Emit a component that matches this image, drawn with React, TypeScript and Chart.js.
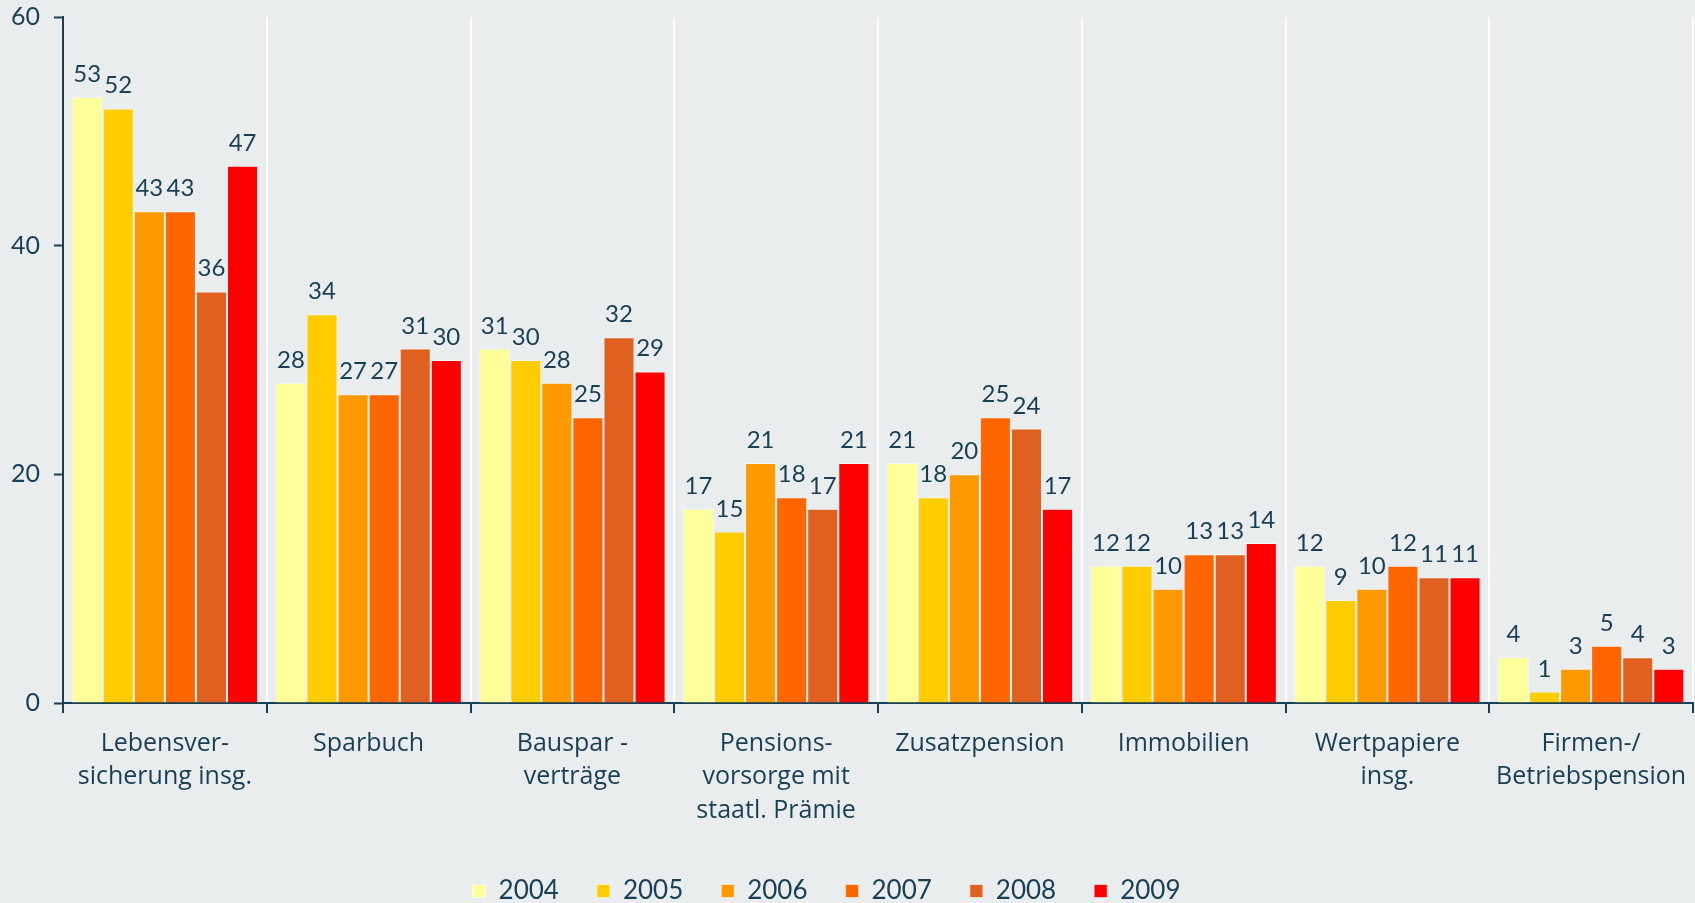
import React, { useEffect, useRef } from "react";
import { Chart, registerables } from "chart.js";

Chart.register(...registerables);

const categories: string[][] = [
  ["Lebensver-", "sicherung insg."],
  ["Sparbuch"],
  ["Bauspar -", "verträge"],
  ["Pensions-", "vorsorge mit", "staatl. Prämie"],
  ["Zusatzpension"],
  ["Immobilien"],
  ["Wertpapiere", "insg."],
  ["Firmen-/", "Betriebspension"],
];

const years = ["2004", "2005", "2006", "2007", "2008", "2009"];
const v2004 = [53, 28, 31, 17, 21, 12, 12, 4];
const v2005 = [52, 34, 30, 15, 18, 12, 9, 1];
const v2006 = [43, 27, 28, 21, 20, 10, 10, 3];
const v2007 = [43, 27, 25, 18, 25, 13, 12, 5];
const v2008 = [36, 31, 32, 17, 24, 13, 11, 4];
const v2009 = [47, 30, 29, 21, 17, 14, 11, 3];
const seriesValues = [v2004, v2005, v2006, v2007, v2008, v2009];
const yTicks = [0, 20, 40, 60];

const colors = ["#ffff99", "#ffcc00", "#ff9900", "#ff6600", "#e06020", "#ff0000"];
const TEXT = "#173f56";
const BG = "#e9edee";
const FONT = "'Open Sans', 'DejaVu Sans', sans-serif";
const NUMFONT = "Lato, 'Open Sans', sans-serif";

export default function App() {
  const ref = useRef<HTMLCanvasElement | null>(null);
  useEffect(() => {
    if (!ref.current) return;
    const bgPlugin = {
      id: "bg",
      beforeDraw(chart: any) {
        const ctx = chart.ctx;
        ctx.save();
        ctx.fillStyle = BG;
        ctx.fillRect(0, 0, chart.width, chart.height);
        ctx.restore();
      },
    };
    const valuePlugin = {
      id: "values",
      afterDatasetsDraw(chart: any) {
        const ctx = chart.ctx;
        ctx.save();
        ctx.fillStyle = TEXT;
        ctx.font = `24px ${NUMFONT}`;
        ctx.textAlign = "center";
        ctx.textBaseline = "alphabetic";
        chart.data.datasets.forEach((ds: any, i: number) => {
          const meta = chart.getDatasetMeta(i);
          meta.data.forEach((bar: any, j: number) => {
            ctx.fillText(String(ds.data[j]), bar.x, bar.y - 15);
          });
        });
        ctx.restore();
      },
    };
    const chart = new Chart(ref.current, {
      type: "bar",
      data: {
        labels: categories,
        datasets: years.map((y, i) => ({
          label: y,
          data: seriesValues[i],
          backgroundColor: colors[i],
          borderColor: "rgba(255,255,255,0.55)",
          borderWidth: 1,
          barPercentage: 1,
          categoryPercentage: 0.915,
        })),
      },
      options: {
        animation: false,
        responsive: false,
        maintainAspectRatio: false,
        layout: { padding: { left: 0, right: 2, top: 17, bottom: -11 } },
        plugins: {
          tooltip: { enabled: false },
          legend: {
            position: "bottom",
            labels: {
              boxWidth: 13,
              boxHeight: 13,
              padding: 38,
              color: TEXT,
              font: { family: NUMFONT, size: 26 },
              generateLabels(chart: any) {
                const items = Chart.defaults.plugins.legend.labels.generateLabels(chart);
                if (items.length) items[items.length - 1].text += "      ";
                return items;
              },
            },
          },
        },
        scales: {
          x: {
            grid: {
              offset: true,
              color: "#ffffff",
              lineWidth: 2,
              drawTicks: true,
              tickColor: TEXT,
              tickLength: 10,
              tickWidth: 2,
            },
            border: { display: true, color: TEXT, width: 2 },
            ticks: {
              color: TEXT,
              padding: 14,
              font: { family: FONT, size: 25, lineHeight: 1.34 },
              maxRotation: 0,
              autoSkip: false,
            },
            afterFit(scale: any) {
              scale.height = 137;
              scale.paddingLeft = 0;
              scale.paddingRight = 0;
            },
          },
          y: {
            min: 0,
            max: 60,
            afterBuildTicks(scale: any) {
              scale.ticks = yTicks.map((v) => ({ value: v }));
            },
            grid: {
              drawOnChartArea: false,
              drawTicks: true,
              tickColor: TEXT,
              tickLength: 9,
              tickWidth: 2,
            },
            border: { display: true, color: TEXT, width: 2 },
            ticks: {
              color: TEXT,
              padding: 14,
              font: { family: NUMFONT, size: 25 },
            },
            afterFit(scale: any) {
              scale.width = 63;
              scale.paddingTop = 0;
              scale.paddingBottom = 0;
            },
          },
        },
      },
      plugins: [bgPlugin, valuePlugin],
    } as any);
    return () => chart.destroy();
  }, []);
  return (
    <div style={{ position: "fixed", left: 0, top: 0, width: 1695, height: 903, background: BG }}>
      <canvas ref={ref} width={1695} height={903} style={{ width: 1695, height: 903 }} />
    </div>
  );
}
